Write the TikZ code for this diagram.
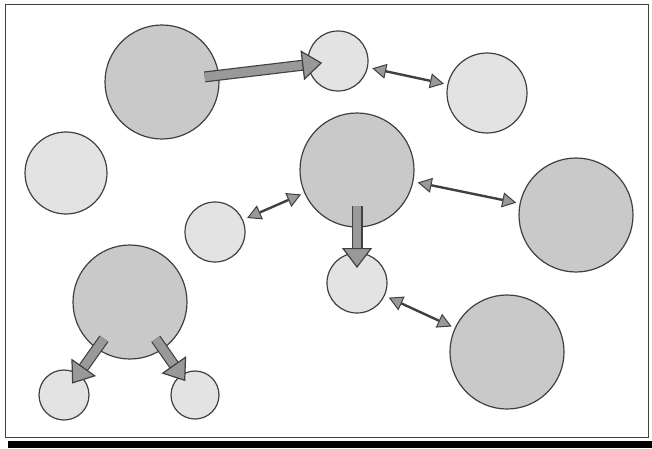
\documentclass[tikz,border=0pt]{standalone}
\usetikzlibrary{arrows.meta}
\definecolor{rim}{gray}{0.25}
\definecolor{darkdisc}{gray}{0.79}
\definecolor{lightdisc}{gray}{0.89}
\definecolor{shade}{gray}{0.6}
\begin{document}
\begin{tikzpicture}[x=1pt,y=-1pt,
  disc/.style={circle,draw=rim,line width=1.2pt,inner sep=0pt,outer sep=0pt,minimum size=#1},
  big/.style={disc=114pt,fill=darkdisc},
  small/.style={disc=#1,fill=lightdisc},
  Head/.tip={Triangle[length=14pt,width=15pt,line width=1pt,color=rim,fill=shade]},
  Fat/.tip={Triangle[length=20pt,width=30pt,line width=1.2pt,color=rim,fill=shade]},
  link/.style={draw=rim,line width=2.4pt,{Head}-{Head},shorten <=5pt,shorten >=4pt},
  fat/.style 2 args={draw=shade,line width=8.6pt,-{Fat},shorten <=-#1,shorten >=-#2,
    preaction={draw=rim,line width=11pt,-,shorten <=-#1,shorten >=18pt-#2}}]
\useasboundingbox (0,0) rectangle (652,448);
\draw[rim,line width=0.8pt] (5,4) rectangle (648,437); % frame
\fill[black] (8,441) rectangle (652,448); % shadow
\node[big] (topbig) at (162,82) {};
\node[small=60pt] (topsmall) at (338,61) {};
\node[small=80pt] (topright) at (487,93) {};
\node[small=82pt] (left) at (66,173) {};
\node[big] (hub) at (357,170) {};
\node[small=60pt] (midsmall) at (215,232) {};
\node[big] (right) at (576,215) {};
\node[small=60pt] (below) at (357,283) {};
\node[big] (lowbig) at (130,302) {};
\node[big] (lowright) at (507,352) {};
\node[small=50pt] (leafl) at (64,395) {};
\node[small=48pt] (leafr) at (195,395) {};
\draw[fat={14pt}{14pt}] (topbig) -- (topsmall);
\draw[link] (topsmall) -- (topright);
\draw[link] (midsmall) -- (hub);
\draw[link] (hub) -- (right);
\draw[fat={21pt}{15pt}] (hub) -- (below);
\draw[link] (below) -- (lowright);
\draw[fat={12pt}{11pt}] (lowbig) -- (leafl);
\draw[fat={12pt}{7pt}] (lowbig) -- (leafr);
\end{tikzpicture}
\end{document}
